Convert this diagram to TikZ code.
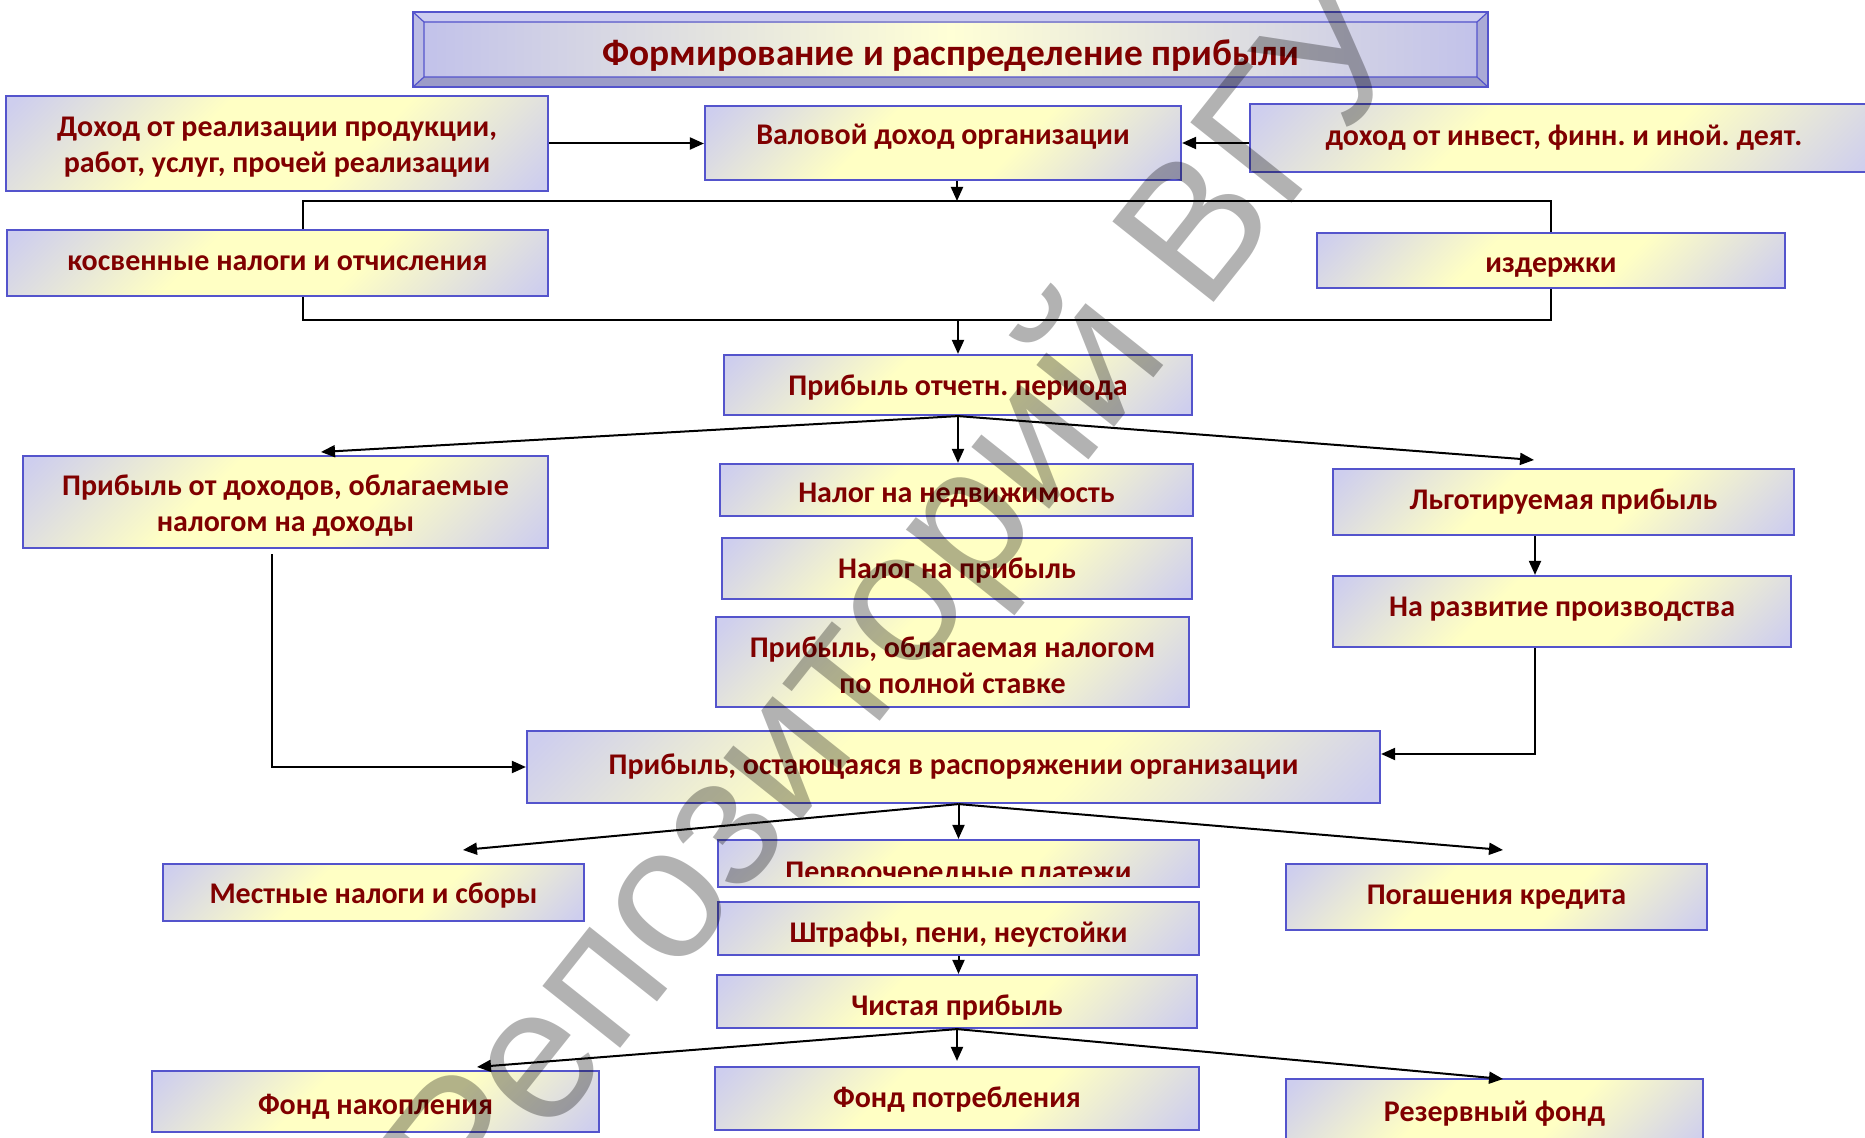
\documentclass[tikz,border=0pt]{standalone}
\usepackage{fontspec}
\setmainfont{Carlito}
\newfontfamily\wmfont{Liberation Sans}
\usetikzlibrary{arrows.meta}
\frenchspacing
\definecolor{lav}{RGB}{206,206,238}
\definecolor{yel}{RGB}{255,255,196}
\definecolor{bord}{RGB}{84,84,204}
\definecolor{txt}{RGB}{128,0,0}
\definecolor{tlav}{RGB}{194,194,234}
\definecolor{tyel}{RGB}{255,255,214}
\definecolor{bvtop}{RGB}{204,204,240}
\definecolor{bvbot}{RGB}{156,156,200}
\definecolor{bvleft}{RGB}{188,188,228}
\definecolor{bvright}{RGB}{170,170,214}
\pgfdeclarehorizontalshading{boxshade}{100bp}{color(0bp)=(lav); color(16bp)=(lav); color(40bp)=(yel); color(60bp)=(yel); color(84bp)=(lav); color(100bp)=(lav)}
\pgfdeclarehorizontalshading{titleshade}{100bp}{color(0bp)=(tlav); color(25bp)=(tlav); color(50bp)=(tyel); color(75bp)=(tlav); color(100bp)=(tlav)}
\tikzset{
  bx/.style={draw=bord, line width=1.1pt, shade, shading=boxshade, shading angle=-45, inner sep=0pt},
  tx/.style={text=txt, font=\bfseries\fontsize{15}{18}\selectfont, align=center, inner sep=0pt},
  ttl/.style={text=txt, font=\bfseries\fontsize{18.7}{22}\selectfont, inner sep=0pt},
  arr/.style={draw=black, line width=1pt, -{Triangle[length=7pt,width=6pt]}},
  ln/.style={draw=black, line width=1pt},
  wm/.style={font=\wmfont\fontsize{94}{94}\selectfont, text=black, text opacity=0.3, inner sep=0pt}
}
% name, x1, y1, x2, y2, text shift, text
\newcommand\mkbox[7]{%
  \node[bx, minimum width={(#4-#2)*0.5pt}, minimum height={(#5-#3)*0.5pt}] (#1) at ({(#2+#4)/2},{(#3+#5)/2}) {};
  \node[tx] (#1t) at ({(#2+#4)/2},{(#3+#5)/2+#6}) {#7};}
\begin{document}
\begin{tikzpicture}[x=0.5pt,y=-0.5pt]
\useasboundingbox (0,0) rectangle (1865,1138);
\clip (0,0) rectangle (1865,1138);
\fill[white] (0,0) rectangle (1865,1138);
% title
\fill[bvtop] (413,12) -- (1488,12) -- (1477,22) -- (424,22) -- cycle;
\fill[bvbot] (413,87) -- (1488,87) -- (1477,77) -- (424,77) -- cycle;
\fill[bvleft] (413,12) -- (424,22) -- (424,77) -- (413,87) -- cycle;
\fill[bvright] (1488,12) -- (1477,22) -- (1477,77) -- (1488,87) -- cycle;
\shade[shading=titleshade] (424,22) rectangle (1477,77);
\draw[bord, line width=0.6pt] (424,22) rectangle (1477,77) (413,12) -- (424,22) (1488,12) -- (1477,22) (413,87) -- (424,77) (1488,87) -- (1477,77);
\draw[bord, line width=1.1pt] (413,12) rectangle (1488,87);
\node[ttl] (title) at (951,56) {Формирование и распределение прибыли};
% boxes
\mkbox{A}{6}{96}{548}{191}{3.5}{Доход от реализации продукции,\\работ, услуг, прочей реализации}
\mkbox{B}{705}{106}{1181}{180}{-6}{Валовой доход организации}
\mkbox{C}{1250}{104}{1878}{172}{0}{доход от инвест, финн. и иной. деят.}
\mkbox{D}{7}{230}{548}{296}{0}{косвенные налоги и отчисления}
\mkbox{E}{1317}{233}{1785}{288}{7}{издержки}
\mkbox{F}{724}{355}{1192}{415}{2.5}{Прибыль отчетн. периода}
\mkbox{G}{23}{456}{548}{548}{3.5}{Прибыль от доходов, облагаемые\\налогом на доходы}
\mkbox{H}{720}{464}{1193}{516}{5}{Налог на недвижимость}
\mkbox{H2}{722}{538}{1192}{599}{2.5}{Налог на прибыль}
\mkbox{H3}{716}{617}{1189}{707}{3.5}{Прибыль, облагаемая налогом\\по полной ставке}
\mkbox{I}{1333}{469}{1794}{535}{0}{Льготируемая прибыль}
\mkbox{J}{1333}{576}{1791}{647}{-2.5}{На развитие производства}
\mkbox{K}{527}{731}{1380}{803}{0}{Прибыль, остающаяся в распоряжении организации}
\mkbox{L}{163}{864}{584}{921}{3.5}{Местные налоги и сборы}
\node[bx, minimum width={481*0.5pt}, minimum height={47*0.5pt}] (M) at (958.5,863.5) {};
\mkbox{N}{718}{902}{1199}{955}{6}{Штрафы, пени, неустойки}
\mkbox{O}{717}{975}{1197}{1028}{6}{Чистая прибыль}
\mkbox{P}{1286}{864}{1707}{930}{0}{Погашения кредита}
\mkbox{Q}{152}{1071}{599}{1132}{5}{Фонд накопления}
\mkbox{R}{715}{1067}{1199}{1130}{1}{Фонд потребления}
\mkbox{S}{1286}{1079}{1703}{1150}{-1}{Резервный фонд}
\begin{scope}
\clip (719,841) rectangle (1198,877);
\node[tx, anchor=base] (Mt) at (958.5,882) {Первоочередные платежи};
\end{scope}
% connectors
\draw[arr] (A.east) -- (A.east -| B.west);
\draw[arr] (B.east -| C.west) -- (B.east);
\coordinate (bt) at (957,201);
\draw[arr] (bt |- B.south) -- (bt);
\coordinate (b1) at (303,201);
\coordinate (b3) at (303,320);
\draw[ln] (D.north -| b1) -- (b1) -- (b1 -| E.north) -- (E.north);
\draw[ln] (D.south -| b3) -- (b3) -- (b3 -| E.south) -- (E.south);
\draw[arr] (F.north |- b3) -- (F.north);
\coordinate (gt) at (321,452);
\coordinate (it) at (1534,460);
\draw[arr] (F.south) -- (gt);
\draw[arr] (F.south) -- (F.south |- H.north);
\draw[arr] (F.south) -- (it);
\coordinate (ij) at (1535,600);
\draw[arr] (I.south -| ij) -- (J.north -| ij);
\coordinate (jk) at (1535,754);
\draw[arr] (J.south -| jk) -- (jk) -- (jk -| K.east);
\coordinate (gk) at (272,767);
\draw[arr, shorten <=2.5pt] (G.south -| gk) -- (gk) -- (K.west);
\coordinate (lt) at (463,850);
\coordinate (pt) at (1503,850);
\draw[arr] (M.north |- K.south) -- (lt);
\draw[arr] (M.north |- K.south) -- (M.north);
\draw[arr] (M.north |- K.south) -- (pt);
\draw[arr] (N.south) -- (N.south |- O.north);
\coordinate (qt) at (477,1067);
\coordinate (st) at (1503,1079);
\draw[arr] (O.south) -- (qt);
\draw[arr] (O.south) -- ([yshift=2.5pt]R.north);
\draw[arr] (O.south) -- (st);
% watermark
\node[wm, rotate=51.5] (wmk) at (908,606) {Репозиторий ВГУ};
\end{tikzpicture}
\end{document}
